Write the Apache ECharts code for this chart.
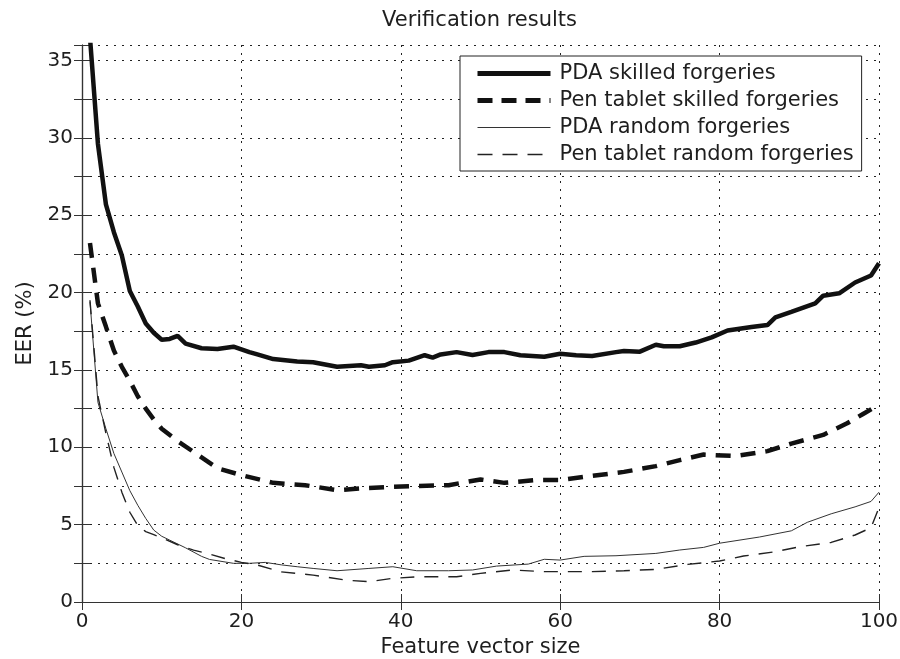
<!DOCTYPE html>
<html>
<head>
<meta charset="utf-8">
<script src="https://cdn.jsdelivr.net/npm/echarts@6/dist/echarts.min.js"></script>
<style>
  html, body { margin: 0; padding: 0; background: #fff; }
  #chart { width: 900px; height: 659px; }
</style>
</head>
<body>
<div id="chart"></div>
<script>
// ---- data ----
var titleText = 'Verification results';
var xAxisName = 'Feature vector size';
var yAxisName = 'EER (%)';
var seriesNames = ['PDA skilled forgeries', 'Pen tablet skilled forgeries', 'PDA random forgeries', 'Pen tablet random forgeries'];

var pdaSkilledX = [1,2,3,4,5,6,7,8,9,10,11,12,13,15,17,19,21,22,24,27,29,30,32,35,36,38,39,41,43,44,45,47,49,51,53,55,58,60,62,64,67,68,70,72,73,75,77,79,81,84,86,87,89,92,93,95,97,99,100];
var pdaSkilledY = [36.5,29.6,25.7,23.9,22.4,20.1,19.1,18.0,17.4,16.95,17.0,17.2,16.7,16.4,16.35,16.5,16.15,16.0,15.7,15.55,15.5,15.4,15.2,15.3,15.2,15.3,15.5,15.6,15.95,15.8,16.0,16.15,15.97,16.15,16.15,15.95,15.85,16.05,15.95,15.9,16.15,16.22,16.18,16.63,16.53,16.53,16.77,17.1,17.55,17.77,17.9,18.4,18.75,19.3,19.8,19.95,20.65,21.1,21.9];

var penSkilledX = [1,2,3,4,5,6,7,8,9,10,12,14,17,20,24,28,32,35,39,42,46,50,53,57,60,64,68,72,75,78,82,86,89,93,96,98,100];
var penSkilledY = [23.2,19.3,17.8,16.25,15.2,14.3,13.3,12.5,11.8,11.2,10.4,9.7,8.65,8.2,7.7,7.55,7.23,7.34,7.44,7.5,7.55,7.92,7.7,7.88,7.88,8.15,8.41,8.78,9.17,9.53,9.43,9.75,10.24,10.8,11.55,12.15,12.75];

var pdaRandomX = [1,2,3,4,5,6,7,8,9,10,11,13,15,16,19,21,23,25,27,29,32,36,39,42,46,49,52,56,58,60,63,67,72,75,78,80,85,89,91,94,97,99,100];
var pdaRandomY = [19.4,12.9,11.2,9.6,8.4,7.2,6.25,5.4,4.65,4.25,4.0,3.5,2.95,2.75,2.5,2.5,2.56,2.4,2.28,2.17,2.02,2.17,2.28,2.02,2.02,2.07,2.32,2.45,2.76,2.71,2.95,2.99,3.14,3.36,3.53,3.8,4.2,4.6,5.15,5.7,6.15,6.5,7.1];

var penRandomX = [1,2,3,4,5,6,7,8,9,10,12,14,16,18,20,22,25,29,33,36,39,42,47,50,54,58,62,64,68,72,76,80,83,87,90,94,97,99,100];
var penRandomY = [19.5,13.3,10.9,8.7,7.1,5.8,4.95,4.55,4.35,4.15,3.7,3.35,3.1,2.8,2.56,2.39,1.95,1.74,1.42,1.31,1.53,1.63,1.63,1.85,2.07,1.96,1.96,1.96,2.02,2.11,2.43,2.65,2.97,3.25,3.57,3.85,4.33,4.8,6.1];

var xMin = 0, xMax = 100, xStep = 20;
var yMin = 0, yMax = 36, yStep = 2.5, yLabelStep = 5;

function pairs(xs, ys) {
  var out = [];
  for (var i = 0; i < Math.min(xs.length, ys.length); i++) out.push([xs[i], ys[i]]);
  return out;
}

var FONT = 'DejaVu Sans';
var TXT = '#1e1e1e';
var AXC = '#333';
var gridDash = { color: '#222', width: 1, type: [2, 6] };

var styles = [
  { color: '#111', width: 4.5, type: 'solid' },
  { color: '#111', width: 4.5, type: [15, 10] },
  { color: '#333', width: 1, type: 'solid' },
  { color: '#222', width: 1.4, type: [14, 10] }
];
var legendStyles = [
  { color: '#111', width: 5, type: 'solid' },
  { color: '#111', width: 5, type: [15, 9] },
  { color: '#333', width: 1, type: 'solid' },
  { color: '#222', width: 1.5, type: [15, 10] }
];

var chart = echarts.init(document.getElementById('chart'), null, { renderer: 'canvas' });

var option = {
  animation: false,
  backgroundColor: '#fff',
  textStyle: { fontFamily: FONT, color: TXT },
  title: {
    text: titleText,
    left: 382, top: 10, padding: 0,
    textStyle: { fontFamily: FONT, fontSize: 21, fontWeight: 'normal', color: TXT }
  },
  grid: { left: 82, right: 21, top: 45, bottom: 57, containLabel: false, outerBoundsMode: 'none' },
  legend: {
    orient: 'vertical',
    left: 460, top: 56,
    padding: [7, 8, 6, 15],
    backgroundColor: '#fff',
    borderColor: '#222',
    borderWidth: 1,
    itemWidth: 73, itemHeight: 14, itemGap: 6,
    selectedMode: false,
    itemStyle: { color: 'rgba(0,0,0,0)', borderWidth: 0, opacity: 0 },
    textStyle: { fontFamily: FONT, fontSize: 21, color: TXT, lineHeight: 21, padding: [0, 0, 0, 4] },
    data: seriesNames.map(function (n, i) {
      return { name: n, lineStyle: legendStyles[i], itemStyle: { color: 'rgba(0,0,0,0)', borderWidth: 0, opacity: 0 } };
    })
  },
  xAxis: [{
    type: 'value', position: 'bottom',
    min: xMin, max: xMax, interval: xStep,
    name: xAxisName, nameLocation: 'middle', nameGap: 35,
    nameTextStyle: { fontFamily: FONT, fontSize: 21, color: TXT },
    axisLine: { show: true, lineStyle: { color: AXC, width: 1.2 } },
    axisTick: { show: true, inside: true, length: 8, lineStyle: { color: AXC } },
    axisLabel: { fontFamily: FONT, fontSize: 20, color: TXT, margin: 10 },
    splitLine: { show: true, lineStyle: gridDash }
  }, {
    type: 'value', position: 'top',
    min: xMin, max: xMax, interval: xStep,
    axisLine: { show: true, lineStyle: { color: AXC, width: 1.2 } },
    axisTick: { show: true, inside: true, length: 8, lineStyle: { color: AXC } },
    axisLabel: { show: false },
    splitLine: { show: false }
  }],
  yAxis: [{
    type: 'value', position: 'left',
    min: yMin, max: yMax, interval: yStep,
    name: yAxisName, nameLocation: 'middle', nameGap: 46,
    nameTextStyle: { fontFamily: FONT, fontSize: 21, color: TXT },
    axisLine: { show: true, lineStyle: { color: AXC, width: 1.2 } },
    axisTick: { show: true, inside: true, length: 8, lineStyle: { color: AXC } },
    axisLabel: {
      fontFamily: FONT, fontSize: 20, color: TXT, margin: 9,
      formatter: function (v) { return (v % yLabelStep === 0) ? String(v) : ''; }
    },
    splitLine: { show: true, lineStyle: gridDash }
  }, {
    type: 'value', position: 'right',
    min: yMin, max: yMax, interval: yStep,
    axisLine: { show: true, lineStyle: { color: AXC, width: 1.2 } },
    axisTick: { show: true, inside: true, length: 8, lineStyle: { color: AXC } },
    axisLabel: { show: false },
    splitLine: { show: false }
  }],
  series: [
    { xs: pdaSkilledX, ys: pdaSkilledY },
    { xs: penSkilledX, ys: penSkilledY },
    { xs: pdaRandomX, ys: pdaRandomY },
    { xs: penRandomX, ys: penRandomY }
  ].map(function (s, i) {
    return {
      name: seriesNames[i], type: 'line', xAxisIndex: 0, yAxisIndex: 0,
      data: pairs(s.xs, s.ys),
      symbol: 'none', showSymbol: false, clip: true,
      lineStyle: styles[i],
      itemStyle: { color: styles[i].color }
    };
  })
};

chart.setOption(option);
</script>
</body>
</html>
